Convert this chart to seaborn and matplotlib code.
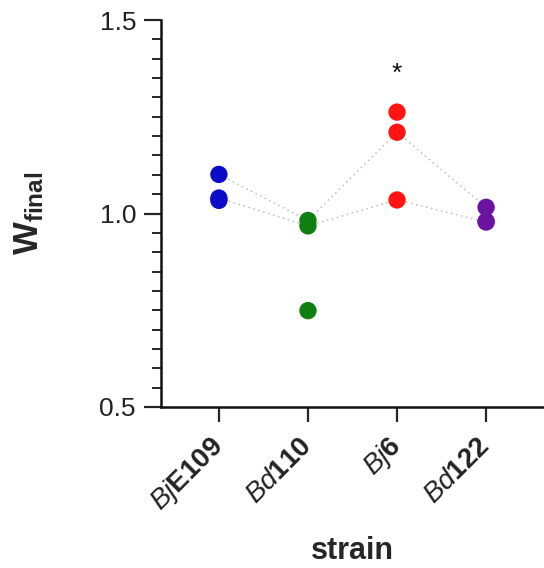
import matplotlib
matplotlib.use("Agg")
import matplotlib.pyplot as plt
from matplotlib.ticker import MultipleLocator, FormatStrFormatter
import pandas as pd
import seaborn as sns

# Fitness (W_final) per strain, three replicate competitions each
strains = ["BjE109", "Bd110", "Bj6", "Bd122"]
rep1 = [1.101, 0.982, 1.210, 1.016]
rep2 = [1.040, 0.968, 1.035, 0.978]
rep3 = [1.034, 0.749, 1.262, 0.980]
tick_labels = [r"$\mathit{Bj}\mathbf{E109}$", r"$\mathit{Bd}\mathbf{110}$",
               r"$\mathit{Bj}\mathbf{6}$", r"$\mathit{Bd}\mathbf{122}$"]
colors = ["#0B0BC8", "#0F800F", "#FF1414", "#6C12A0"]
star_strain = "Bj6"
star_y = 1.36

sns.set_theme(style="ticks")
plt.rcParams["font.family"] = ["Liberation Sans", "DejaVu Sans"]
plt.rcParams["mathtext.fontset"] = "custom"
plt.rcParams["mathtext.rm"] = "Liberation Sans"
plt.rcParams["mathtext.it"] = "Liberation Sans:italic"
plt.rcParams["mathtext.bf"] = "Liberation Sans:bold"

df = pd.DataFrame({
    "strain": strains * 3,
    "W": rep1 + rep2 + rep3,
    "replicate": [1] * 4 + [2] * 4 + [3] * 4,
})

fig = plt.figure(figsize=(5.44, 5.68), dpi=100)
ax = fig.add_axes([161 / 544, 1 - 407 / 568, 1 - 161 / 544, (407 - 20) / 568])

# dotted connectors for the two paired replicate series
lines = df[df["replicate"] < 3]
sns.lineplot(data=lines, x="strain", y="W", units="replicate", estimator=None,
             sort=False, color="#BDBDBD", lw=1.0, linestyle=(0, (1.2, 2.5)),
             ax=ax, legend=False)

sns.stripplot(data=df, x="strain", y="W", hue="strain", order=strains,
              palette=colors, jitter=False, size=12.5, linewidth=0,
              ax=ax, legend=False, zorder=3)

ax.text(strains.index(star_strain), star_y, "*", ha="center", va="center",
        fontsize=19, color="#111111")

ax.set_xlim(-0.65, 3.65)
ax.set_ylim(0.5, 1.5)
ax.yaxis.set_major_locator(MultipleLocator(0.5))
ax.yaxis.set_minor_locator(MultipleLocator(0.05))
ax.yaxis.set_major_formatter(FormatStrFormatter("%.1f"))
ax.set_xticks(range(len(strains)))
ax.set_xticklabels(tick_labels, rotation=45, ha="right", va="center",
                   rotation_mode="anchor", fontsize=20, color="#222222")
for lbl in ax.get_xticklabels():
    lbl.set_y(-0.03)

ax.tick_params(axis="y", which="major", length=12, width=1.6, labelsize=19,
               labelcolor="#222222", pad=6)
ax.tick_params(axis="y", which="minor", length=6.5, width=1.4)
ax.tick_params(axis="x", which="major", length=11, width=1.6, pad=6)

for side in ["left", "bottom"]:
    ax.spines[side].set_linewidth(1.8)
    ax.spines[side].set_color("#111111")
ax.spines["top"].set_visible(False)
ax.spines["right"].set_visible(False)

ax.set_xlabel("strain", fontsize=22, fontweight="bold")
ax.xaxis.set_label_coords(0.5, -(536 - 407) / 387)
ax.set_ylabel(r"$\mathbf{W}_{\mathbf{final}}$", fontsize=25)
ax.yaxis.set_label_coords(-(161 - 46) / 383, 0.5)

fig.savefig("out.png", dpi=100)
